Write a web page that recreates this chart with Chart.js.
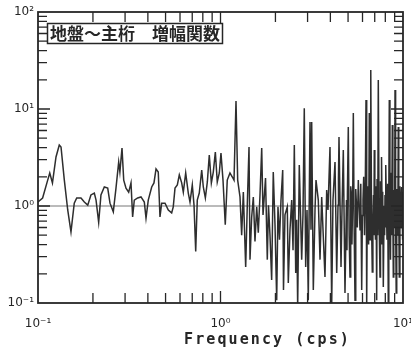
<!DOCTYPE html>
<html>
<head>
<meta charset="utf-8">
<script src="https://cdn.jsdelivr.net/npm/chart.js@4.4.0/dist/chart.umd.min.js"></script>
<style>
html,body{margin:0;padding:0;background:#fff;}
canvas{display:block;}
</style>
</head>
<body>
<canvas id="c" width="411" height="351"></canvas>
<script>
// Frequency (cps) and amplitude of the transfer function
const freq = [
0.100,0.106,0.113,0.116,0.120,0.1255,0.1308,0.1337,0.1394,0.1455,0.1516,0.158,0.163,0.172,0.1794,0.1873,0.195,0.2035,0.208,0.215,
0.2213,0.2309,0.241,0.248,0.2586,0.2675,0.2768,0.281,0.2886,0.2949,0.3035,0.314,0.3233,0.330,0.337,0.3517,0.3667,0.3824,0.3907,0.402,
0.4198,0.432,0.4433,0.456,0.466,0.476,0.4966,0.5176,0.540,0.551,0.5633,0.580,0.5947,0.6128,0.6255,0.6446,0.666,0.6806,0.7006,0.716,
0.7314,0.746,0.765,0.789,0.805,0.826,0.847,0.868,0.891,0.913,0.937,0.960,0.985,1.006,1.032,1.062,1.089,1.127,1.161,1.186,
1.216,1.242,1.279,1.306,1.334,1.374,1.403,1.433,1.451,1.482,1.513,1.545,1.579,1.611,
1.646,1.682,1.710,1.765,1.805,1.832,1.867,1.907,1.946,1.989,2.032,2.065,2.105,2.145,2.192,2.214,2.256,2.323,2.352,2.403,
2.455,2.497,2.538,2.583,2.615,2.648,2.702,2.785,2.831,2.878,2.929,2.979,3.027,3.093,3.132,3.160,3.225,3.295,3.337,3.435,
3.510,3.585,3.645,3.737,3.818,3.881,3.981,4.067,4.134,4.241,4.333,4.404,4.43,4.460,4.574,4.632,4.709,4.810,
4.902,4.93,4.96,5.015,5.07,5.124,5.17,5.222,5.25,5.30,5.343,5.40,5.458,5.51,5.562,5.62,5.690,5.75,5.813,5.87,
5.939,5.99,6.037,6.09,6.152,6.21,6.270,6.325,6.38,6.430,6.48,6.536,6.595,6.64,6.678,6.73,6.788,6.84,6.892,6.93,
6.961,7.01,7.067,7.12,7.175,7.21,7.249,7.29,7.322,7.40,7.482,7.53,7.577,7.61,7.643,7.68,7.721,7.76,7.800,7.88,
7.93,7.969,8.02,8.068,8.12,8.171,8.24,8.308,8.36,8.413,8.48,8.542,8.60,8.650,8.69,8.738,8.80,8.849,8.90,8.951,
9.0,9.042,9.11,9.178,9.24,9.295,9.36,9.423,9.48,9.543,9.62,9.690,9.76,9.838,9.90,9.938,9.97,10.0
];
const amp = [
1.10,1.21,1.85,2.19,1.73,3.20,4.26,4.06,1.85,0.91,0.54,1.07,1.21,1.21,1.10,1.02,1.30,1.36,1.15,0.68,
1.30,1.57,1.53,1.07,0.87,1.53,2.84,2.24,3.96,1.85,1.53,1.39,1.73,0.77,1.15,1.21,1.24,1.10,0.75,1.15,
1.57,1.73,2.41,2.24,0.77,1.07,1.07,0.91,0.85,0.98,1.53,1.65,2.09,1.73,1.39,2.19,1.36,1.10,1.65,1.02,
0.34,1.15,1.36,2.35,1.57,1.21,1.77,3.36,1.73,2.24,3.60,1.77,2.19,3.52,1.85,0.64,1.85,2.19,1.99,1.85,
12.1,1.85,1.24,0.50,1.39,0.235,1.07,4.06,0.28,0.77,1.24,0.43,0.98,0.53,
1.30,3.96,0.81,1.94,0.28,1.02,0.50,0.173,2.24,0.64,0.107,0.98,0.45,1.15,2.35,0.136,0.81,0.98,0.161,0.57,
1.15,0.35,4.26,0.204,0.72,0.09,2.65,0.28,0.81,10.2,0.235,0.91,0.107,7.34,0.57,7.34,0.136,0.91,1.85,1.15,
0.28,1.24,0.57,0.185,1.46,0.91,4.06,0.095,1.15,2.84,0.204,1.02,1.9,5.14,0.235,0.91,3.78,0.127,
1.15,0.35,1.4,6.52,0.5,0.185,1.6,1.30,0.4,1.2,9.10,0.6,0.107,1.5,1.02,0.6,1.85,1.1,0.57,1.7,
0.136,0.8,1.15,2.0,0.50,1.4,12.4,0.09,1.6,0.91,0.4,9.10,0.45,1.8,25.2,0.6,0.209,0.7,1.30,0.5,
3.78,0.8,0.45,1.6,0.107,1.9,1.15,0.5,19.9,0.7,0.185,1.8,0.91,0.4,3.20,1.0,0.50,1.4,0.146,1.0,
0.5,1.30,0.6,2.65,0.9,0.45,1.7,0.09,1.3,12.4,0.9,0.28,2.2,1.15,0.5,6.84,0.8,0.185,0.9,1.46,
0.6,15.7,0.7,0.127,1.5,0.91,0.5,6.52,0.8,0.185,1.6,1.15,0.6,1.57,0.8,0.45,1.4,1.02
];
// unity reference line
const refFreq = [0.1, 10];
const refAmp = [1, 1];
// axis ticks
const xTicks = [0.1,0.2,0.3,0.4,0.5,0.6,0.7,0.8,0.9,1,2,3,4,5,6,7,8,9,10];
const yTicks = [0.1,0.2,0.3,0.4,0.5,0.6,0.7,0.8,0.9,1,2,3,4,5,6,7,8,9,10,20,30,40,50,60,70,80,90,100];
const decadeLabels = {'-1':'10⁻¹','0':'10⁰','1':'10¹','2':'10²'};
const caption = '地盤～主桁　増幅関数';
const xTitle = 'Frequency (cps)';

function isPow(v){const l=Math.log10(v);return Math.abs(l-Math.round(l))<1e-9;}
function lab(v){return isPow(v)?(decadeLabels[String(Math.round(Math.log10(v)))]||''):'';}

const ink = '#262626';

const decor = {
  id:'decor',
  afterDatasetsDraw(chart){
    const {ctx, chartArea:a, scales:{x,y}} = chart;
    ctx.save();
    ctx.strokeStyle = ink;
    ctx.lineWidth = 1.3;
    ctx.beginPath();
    x.ticks.forEach(t=>{
      const p = x.getPixelForValue(t.value);
      if (p <= a.left+1 || p >= a.right-1) return;
      const L = isPow(t.value) ? 12 : 10;
      ctx.moveTo(p, a.bottom); ctx.lineTo(p, a.bottom-L);
      ctx.moveTo(p, a.top); ctx.lineTo(p, a.top+L);
    });
    y.ticks.forEach(t=>{
      const p = y.getPixelForValue(t.value);
      if (p <= a.top+1 || p >= a.bottom-1) return;
      const L = isPow(t.value) ? 12 : 9;
      ctx.moveTo(a.left, p); ctx.lineTo(a.left+L, p);
      ctx.moveTo(a.right, p); ctx.lineTo(a.right-L, p);
    });
    ctx.stroke();
    ctx.lineWidth = 1.8;
    ctx.strokeRect(a.left, a.top, a.right-a.left, a.bottom-a.top);

    // caption box
    ctx.font = 'bold 17px "Noto Sans CJK JP"';
    const tw = ctx.measureText(caption).width;
    const bx = 47.5, by = 23.5, bh = 20;
    ctx.fillStyle = '#fff';
    ctx.fillRect(bx, by, tw+5, bh);
    ctx.lineWidth = 1.5;
    ctx.strokeRect(bx, by, tw+5, bh);
    ctx.fillStyle = ink;
    ctx.textBaseline = 'middle';
    ctx.textAlign = 'left';
    ctx.fillText(caption, bx+2.5, by+bh/2+0.5);

    // x axis title
    ctx.font = 'bold 15px "DejaVu Sans Mono"';
    ctx.letterSpacing = '2.1px';
    ctx.textBaseline = 'alphabetic';
    ctx.fillText(xTitle, 184, 344);
    ctx.restore();
  }
};

new Chart(document.getElementById('c'), {
  type: 'line',
  data: {
    datasets: [
      {
        data: freq.map((f,i)=>({x:f, y:amp[i]})),
        borderColor: '#2e2e2e',
        borderWidth: 1.5,
        pointRadius: 0,
        tension: 0,
        order: 1
      },
      {
        data: refFreq.map((f,i)=>({x:f, y:refAmp[i]})),
        borderColor: '#777',
        borderWidth: 1,
        pointRadius: 0,
        order: 2
      }
    ]
  },
  options: {
    responsive: false,
    devicePixelRatio: 1,
    animation: false,
    layout: {padding: {top: 12, right: 8, left: 0, bottom: 0}},
    plugins: {legend: {display: false}, tooltip: {enabled: false}},
    scales: {
      x: {
        type: 'logarithmic', min: 0.1, max: 10,
        grid: {display: false, drawTicks: false},
        border: {display: false},
        ticks: {autoSkip: false, maxRotation: 0, padding: 14, color: ink,
                font: {family: 'DejaVu Sans', size: 12}, callback: (v)=>lab(v)},
        afterBuildTicks(s){ s.ticks = xTicks.map(v=>({value:v})); },
        afterFit(s){ s.height = 48; s.paddingLeft = 0; s.paddingRight = 0; }
      },
      y: {
        type: 'logarithmic', min: 0.1, max: 100,
        grid: {display: false, drawTicks: false},
        border: {display: false},
        ticks: {autoSkip: false, padding: 4, color: ink,
                font: {family: 'DejaVu Sans', size: 12}, callback: (v)=>lab(v)},
        afterBuildTicks(s){ s.ticks = yTicks.map(v=>({value:v})); },
        afterFit(s){ s.width = 38; s.paddingTop = 0; s.paddingBottom = 0; }
      }
    }
  },
  plugins: [decor]
});
</script>
</body>
</html>
